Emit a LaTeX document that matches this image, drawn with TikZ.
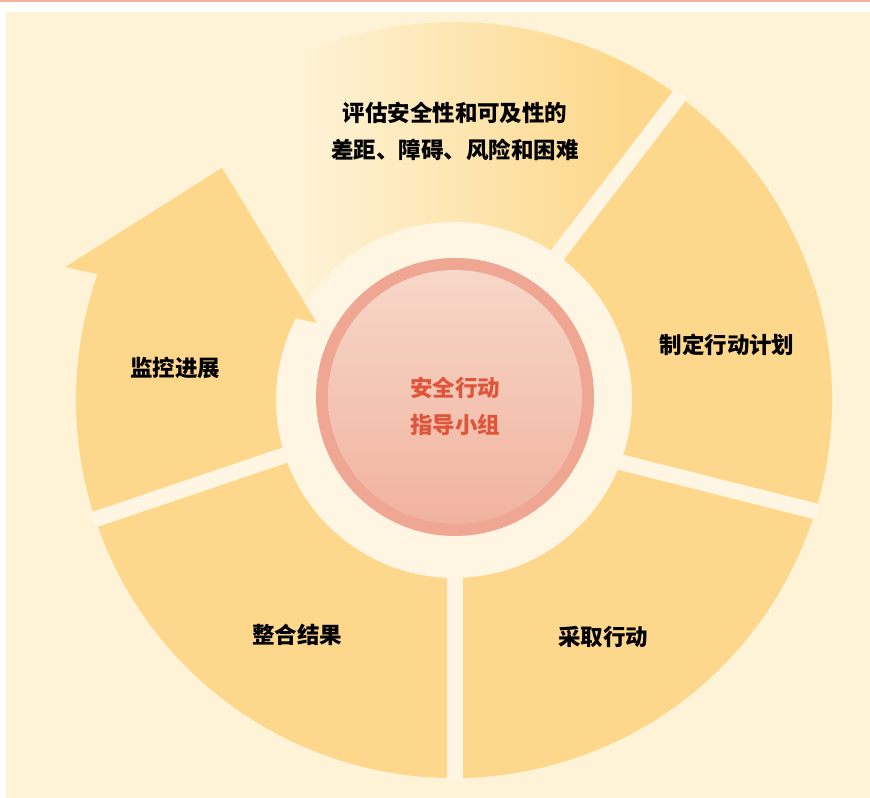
\documentclass[tikz,border=0pt]{standalone}
\usepackage{fontspec}
\newfontfamily\cjk{Noto Sans CJK SC}
\usetikzlibrary{calc}
\definecolor{bgc}{HTML}{FEF3D6}
\definecolor{bandc}{HTML}{FEF6E3}
\definecolor{segc}{HTML}{FDD88C}
\definecolor{rimc}{HTML}{EFA693}
\definecolor{disctop}{HTML}{F7D7C9}
\definecolor{discbot}{HTML}{F1B39E}
\definecolor{ctext}{HTML}{E0553A}
\definecolor{topline}{HTML}{F2B49C}
\tikzset{
  lbl/.style={font=\cjk\bfseries\fontsize{12.8}{21}\selectfont, align=center, text=black},
  ctr/.style={lbl, text=ctext},
  gapline/.style={bandc, line width=9pt}
}
\begin{document}
\begin{tikzpicture}[x=0.02cm, y=0.02cm]
\useasboundingbox (0,0) rectangle (870,798);
\fill[white] (0,0) rectangle (870,798);
\fill[topline] (0,795.5) rectangle (870,798);
\fill[bgc] (6,0) rectangle (870,786);

\coordinate (C) at (454,398);
\coordinate (M) at (455,401);

% band around centre
\fill[bandc] (C) circle[radius=180];

% right and bottom segments
\fill[segc] ($(C)+(-162:378)$) arc[start angle=-162, end angle=54, radius=378]
  -- ($(C)+(54:178)$) arc[start angle=54, end angle=-162, radius=178] -- cycle;

% top segment, fading to the left
\begin{scope}
\clip ($(C)+(54:378)$) arc[start angle=54, end angle=165, radius=378]
  -- ($(C)+(165:178)$) arc[start angle=165, end angle=54, radius=178] -- cycle;
\shade[left color=bgc, right color=segc] (300,380) rectangle (620,800);
\fill[segc] (619,380) rectangle (900,800);
\end{scope}

% left segment with arrow head
\fill[segc] ($(C)+(198:378)$) arc[start angle=198, end angle=160.56, radius=378]
  -- (65,531) -- (222,630) -- (317,475)
  -- ($(C)+(152.67:178)$) arc[start angle=152.67, end angle=198, radius=178] -- cycle;

% gaps
\begin{scope}
\clip (C) circle[radius=381];
\draw[gapline] (530.5,508) -- (714.5,748);
\draw[gapline] (600,341) -- (850,278);
\draw[gapline] (455,240) -- (455,-5);
\draw[gapline] (300,348) -- (37,259);
\end{scope}

% centre circle
\fill[rimc] (M) circle[radius=139];
\shade[top color=disctop, bottom color=discbot] (M) circle[radius=127];

% labels
\node[lbl] (assess) at (455,666.5) {评估安全性和可及性的\\差距、障碍、风险和困难};
\node[lbl] (plan) at (727,453) {制定行动计划};
\node[lbl] (act) at (603,161) {采取行动};
\node[lbl] (integ) at (297,163) {整合结果};
\node[lbl] (monitor) at (175,430) {监控进展};
\node[ctr] (group) at (455,391.5) {安全行动\\指导小组};
\end{tikzpicture}
\end{document}
